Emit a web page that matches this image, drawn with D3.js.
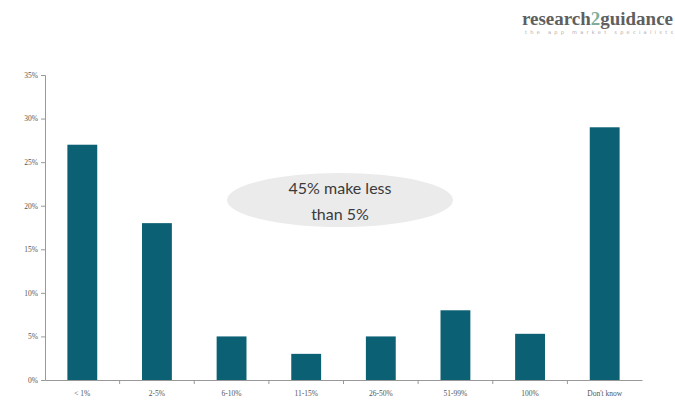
<!DOCTYPE html>
<html><head><meta charset="utf-8">
<script src="https://cdn.jsdelivr.net/npm/d3@7"></script>
<style>body{margin:0;background:#fff}svg{display:block}</style>
</head><body>
<svg id="c" width="675" height="406"></svg>
<script>
const categories = ["< 1%","2-5%","6-10%","11-15%","26-50%","51-99%","100%","Don't know"];
const values = [27,18,5,3,5,8,5.3,29];
const yTicks = [0,5,10,15,20,25,30,35];
const note = ["45% make less","than 5%"];

const svg = d3.select("#c");
const x = d3.scaleBand().domain(categories).range([45,642]).paddingInner(0.6).paddingOuter(0.3);
const y = d3.scaleLinear().domain([0,35]).range([380,75]);

// ellipse annotation
svg.append("ellipse").attr("cx",340).attr("cy",200).attr("rx",113).attr("ry",27).attr("fill","#ebebeb");
svg.append("g").selectAll("text").data(note).join("text")
  .attr("x",340).attr("y",(d,i)=>194+i*26).attr("text-anchor","middle")
  .attr("font-family","Lato, 'Open Sans', sans-serif").attr("font-size",16).attr("fill","#3a3a3a").text(d=>d);

// bars
svg.append("g").selectAll("rect").data(values).join("rect")
  .attr("x",(d,i)=>x(categories[i])).attr("width",x.bandwidth())
  .attr("y",d=>y(d)).attr("height",d=>y(0)-y(d)).attr("fill","#0b6073");

// y axis
const ya = svg.append("g").attr("transform","translate(45,0)")
  .call(d3.axisLeft(y).tickValues(yTicks).tickFormat(d=>d+"%").tickSize(4));
ya.select(".domain").attr("stroke","#999");
ya.selectAll(".tick line").attr("stroke","#999");
ya.selectAll("text").attr("font-family","'Liberation Serif', serif").attr("font-size",7.5).attr("fill","#555");

// x axis
const xa = svg.append("g").attr("transform","translate(0,380)")
  .call(d3.axisBottom(x).tickSize(0).tickPadding(11));
xa.select(".domain").attr("stroke","#999");
xa.selectAll("text").attr("font-family","'Liberation Serif', serif").attr("font-size",7.5).attr("fill","#555");
const step = x.step();
svg.append("g").selectAll("line").data(categories.slice(1)).join("line")
  .attr("x1",d=>x(d)-x.paddingInner()*step/2).attr("x2",d=>x(d)-x.paddingInner()*step/2)
  .attr("y1",380).attr("y2",384).attr("stroke","#999");

// logo
const logo = svg.append("text").attr("x",522).attr("y",25)
  .attr("font-family","'Liberation Serif', serif").attr("font-size",18).attr("font-weight","bold").attr("fill","#5f5f5f")
  .attr("textLength",151).attr("lengthAdjust","spacingAndGlyphs");
logo.append("tspan").text("research");
logo.append("tspan").attr("fill","#7fae9c").text("2");
logo.append("tspan").text("guidance");
svg.append("text").attr("x",525).attr("y",34)
  .attr("font-family","'DejaVu Sans', sans-serif").attr("font-size",5).attr("fill","#aaa")
  .attr("textLength",148).attr("lengthAdjust","spacing")
  .text("the app market specialists");
</script>
</body></html>
